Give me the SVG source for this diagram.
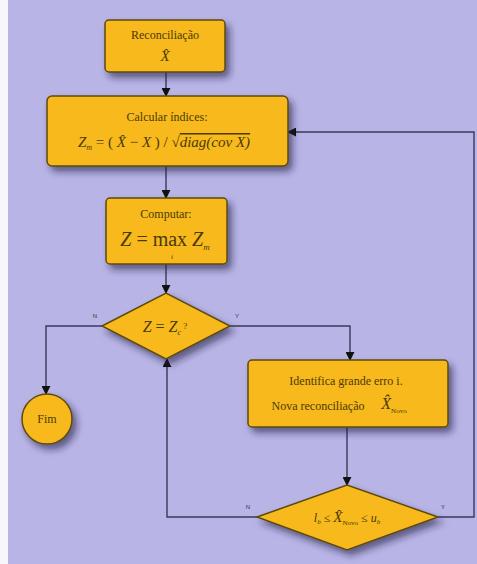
<svg xmlns="http://www.w3.org/2000/svg" width="477" height="564" viewBox="0 0 477 564">
<defs>
<filter id="sh" x="-20%" y="-20%" width="150%" height="160%">
<feDropShadow dx="4" dy="5" stdDeviation="3.5" flood-color="#1c1a40" flood-opacity="0.6"/>
</filter>
<marker id="ah" viewBox="0 0 10 10" refX="9" refY="5" markerWidth="9" markerHeight="9" markerUnits="userSpaceOnUse" orient="auto">
<path d="M0,0 L10,5 L0,10 z" fill="#111"/>
</marker>
<style>
.node{fill:#f7b91e;stroke:#5e4a0c;stroke-width:1.5;filter:url(#sh)}
.lbl{font-family:"Liberation Serif",serif;font-size:12px;fill:#4a3a08;text-anchor:middle}
.math{font-family:"Liberation Serif",serif;font-style:italic;fill:#4a3a08;text-anchor:middle}
.yn{font-family:"Liberation Sans",sans-serif;font-size:6px;fill:#333;text-anchor:middle}
.edge{fill:none;stroke:#3a3858;stroke-width:1.4;marker-end:url(#ah)}
</style>
</defs>
<rect x="0" y="0" width="477" height="564" fill="#b8b4e6"/>
<rect x="0" y="0" width="8" height="564" fill="#f6f6fb"/>

<g id="connectors">
<path class="edge" d="M166,72 V96"/>
<path class="edge" d="M166,166 V198"/>
<path class="edge" d="M166,264 V293"/>
<path class="edge" d="M102,326 H46 V394"/>
<path class="edge" d="M230,326 H350 V360"/>
<path class="edge" d="M347,427 V485"/>
<path class="edge" d="M257,517 H167 V359"/>
<path class="edge" d="M438,517 H474 V132 H288"/>
<text class="yn" x="95" y="318">N</text>
<text class="yn" x="237" y="318">Y</text>
<text class="yn" x="248" y="509">N</text>
<text class="yn" x="443" y="509">Y</text>
</g>

<g id="reconciliacao">
<rect class="node" x="105" y="20" width="120" height="52" rx="4"/>
<text class="lbl" x="165" y="39">Reconciliação</text>
<text class="math" x="165" y="61" font-size="15">X̂</text>
</g>

<g id="calcular">
<rect class="node" x="47" y="96" width="241" height="70" rx="5"/>
<text class="lbl" x="167" y="121">Calcular índices:</text>
<text class="math" x="164" y="147" font-size="15">Z<tspan font-size="8" dy="3">m</tspan><tspan dy="-3" font-style="normal"> = ( </tspan>X̂<tspan font-style="normal"> − </tspan>X<tspan font-style="normal"> ) / √</tspan><tspan text-decoration="overline">diag(cov X)</tspan></text>
</g>

<g id="computar">
<rect class="node" x="106" y="198" width="121" height="66" rx="4"/>
<text class="lbl" x="166" y="218">Computar:</text>
<text class="math" x="165" y="246" font-size="20">Z<tspan font-style="normal"> = max </tspan>Z<tspan font-size="9" dy="4">m</tspan></text>
<text class="math" x="172" y="259" font-size="7">i</text>
</g>

<g id="decisao1">
<polygon class="node" points="102,326 166,293 230,326 166,359"/>
<text class="math" x="165" y="332" font-size="16">Z<tspan font-style="normal"> = </tspan>Z<tspan font-size="8" dy="3">c</tspan><tspan font-style="normal" dy="-6" font-size="9"> ?</tspan></text>
</g>

<g id="fim">
<circle class="node" cx="47" cy="419" r="25"/>
<text class="lbl" x="47" y="423">Fim</text>
</g>

<g id="identifica">
<rect class="node" x="248" y="360" width="200" height="67" rx="4"/>
<text class="lbl" x="346" y="385">Identifica grande erro i.</text>
<text class="lbl" x="318" y="410">Nova reconciliação</text>
<text class="math" x="394" y="409" font-size="16">X̂<tspan font-size="7" font-style="normal" dy="4">Novo</tspan></text>
</g>

<g id="decisao2">
<polygon class="node" points="257,517 347,485 438,517 347,550"/>
<text class="math" x="347" y="522" font-size="12">l<tspan font-size="7" dy="2">b</tspan><tspan dy="-2" font-style="normal"> ≤ </tspan><tspan font-size="15">X̂</tspan><tspan font-size="7" font-style="normal" dy="3">Novo</tspan><tspan dy="-3" font-style="normal"> ≤ </tspan>u<tspan font-size="7" dy="2">b</tspan></text>
</g>
</svg>
